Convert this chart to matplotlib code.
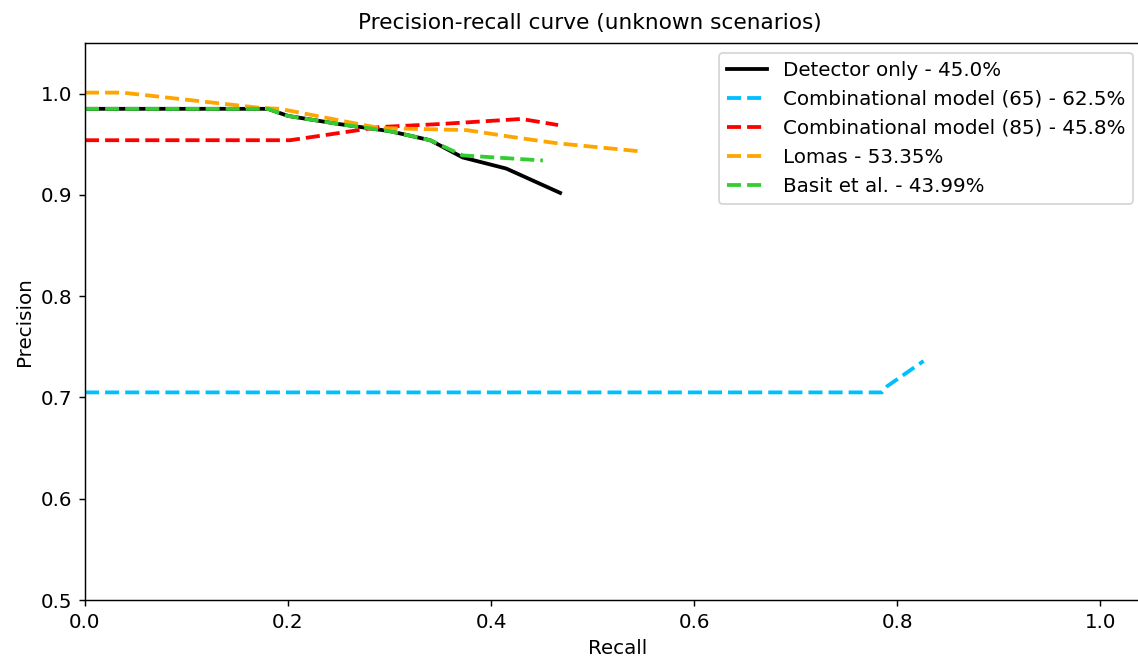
import matplotlib
matplotlib.use("Agg")
import matplotlib.pyplot as plt

# Recall / precision points
detector_recall = [0.0, 0.18, 0.20, 0.25, 0.30, 0.34, 0.372, 0.415, 0.468]
detector_precision = [0.985, 0.985, 0.978, 0.970, 0.963, 0.954, 0.937, 0.926, 0.902]

comb65_recall = [0.0, 0.785, 0.79, 0.826]
comb65_precision = [0.705, 0.705, 0.711, 0.736]

comb85_recall = [0.0, 0.202, 0.29, 0.35, 0.43, 0.466]
comb85_precision = [0.954, 0.954, 0.967, 0.970, 0.975, 0.969]

lomas_recall = [0.0, 0.037, 0.172, 0.192, 0.29, 0.376, 0.422, 0.465, 0.547]
lomas_precision = [1.001, 1.001, 0.986, 0.985, 0.966, 0.964, 0.957, 0.951, 0.943]

basit_recall = [0.0, 0.18, 0.20, 0.25, 0.30, 0.34, 0.372, 0.451]
basit_precision = [0.985, 0.985, 0.978, 0.970, 0.963, 0.954, 0.939, 0.934]

labels = [
    "Detector only - 45.0%",
    "Combinational model (65) - 62.5%",
    "Combinational model (85) - 45.8%",
    "Lomas - 53.35%",
    "Basit et al. - 43.99%",
]

plt.rcParams["font.size"] = 11

W, H, DPI = 1138, 661, 130
fig = plt.figure(figsize=(W / DPI, H / DPI), dpi=DPI)
# axes run past the right edge, as in the (cropped) reference
ax = fig.add_axes([85 / W, 61 / H, 1066 / W, 557 / H])

ax.plot(detector_recall, detector_precision, color="black", lw=2.1, label=labels[0])
ax.plot(comb65_recall, comb65_precision, color="deepskyblue", lw=2.1, ls="--", label=labels[1])
ax.plot(comb85_recall, comb85_precision, color="red", lw=2.1, ls="--", label=labels[2])
ax.plot(lomas_recall, lomas_precision, color="orange", lw=2.1, ls="--", label=labels[3])
ax.plot(basit_recall, basit_precision, color="limegreen", lw=2.1, ls="--", label=labels[4])

ax.set_xlim(0, 1.05)
ax.set_ylim(0.5, 1.05)
ax.set_xlabel("Recall")
ax.set_ylabel("Precision")
ax.set_title("Precision-recall curve (unknown scenarios)", x=0.474, fontsize=12, pad=8)

fig.legend(loc="upper right", bbox_to_anchor=(1133 / W, 1 - 53 / H),
           bbox_transform=fig.transFigure, borderaxespad=0)

fig.savefig("out.png", dpi=DPI)
